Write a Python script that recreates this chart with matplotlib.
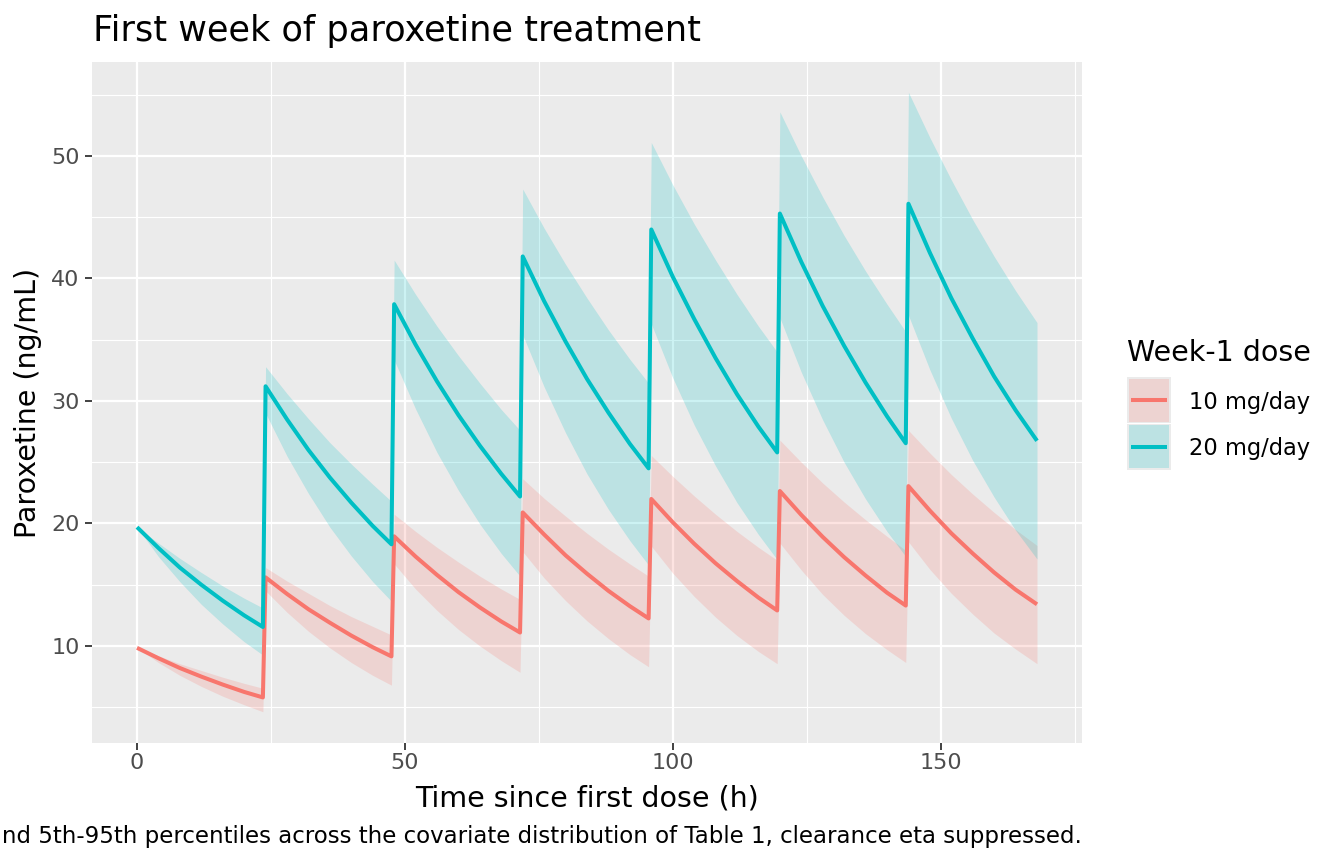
import matplotlib
matplotlib.use("Agg")
import matplotlib.pyplot as plt
from matplotlib.patches import Rectangle

# sample times (h): seven per dosing interval, dose given every 24 h
TIME = [0, 4, 8, 12, 16, 20, 23.5,
        24, 28, 32, 36, 40, 44, 47.5,
        48, 52, 56, 60, 64, 68, 71.5,
        72, 76, 80, 84, 88, 92, 95.5,
        96, 100, 104, 108, 112, 116, 119.5,
        120, 124, 128, 132, 136, 140, 143.5,
        144, 148, 152, 156, 160, 164, 168]

# 10 mg/day: typical profile and 5th / 95th percentile band
LOW_MID = [9.85, 9.0, 8.2, 7.5, 6.85, 6.25, 5.8,
           15.6, 14.25, 13.0, 11.9, 10.85, 9.9, 9.15,
           18.95, 17.3, 15.8, 14.4, 13.15, 12.0, 11.1,
           20.9, 19.1, 17.4, 15.9, 14.5, 13.25, 12.25,
           22.0, 20.1, 18.35, 16.75, 15.3, 13.95, 12.9,
           22.65, 20.7, 18.9, 17.25, 15.75, 14.35, 13.3,
           23.05, 21.05, 19.2, 17.55, 16.0, 14.6, 13.4]
LOW_LO = [9.85, 8.65, 7.6, 6.7, 5.9, 5.2, 4.63,
          14.5, 12.75, 11.2, 9.85, 8.65, 7.6, 6.8,
          16.7, 14.65, 12.9, 11.35, 10.0, 8.8, 7.85,
          17.7, 15.55, 13.7, 12.05, 10.6, 9.3, 8.3,
          18.15, 15.95, 14.05, 12.35, 10.85, 9.55, 8.55,
          18.4, 16.2, 14.2, 12.5, 11.0, 9.7, 8.65,
          18.5, 16.25, 14.3, 12.6, 11.05, 9.75, 8.55]
LOW_HI = [9.85, 9.2, 8.55, 8.0, 7.45, 6.95, 6.55,
          16.4, 15.3, 14.3, 13.3, 12.4, 11.6, 10.9,
          20.75, 19.35, 18.05, 16.85, 15.7, 14.65, 13.8,
          23.65, 22.05, 20.6, 19.2, 17.9, 16.7, 15.7,
          25.55, 23.85, 22.25, 20.75, 19.35, 18.05, 17.0,
          26.8, 25.0, 23.3, 21.75, 20.3, 18.95, 17.8,
          27.6, 25.75, 24.0, 22.4, 20.9, 19.5, 18.2]

# 20 mg/day
HIGH_MID = [19.7, 18.0, 16.4, 15.0, 13.7, 12.5, 11.55,
            31.2, 28.5, 26.0, 23.75, 21.7, 19.8, 18.3,
            37.9, 34.6, 31.6, 28.85, 26.35, 24.05, 22.2,
            41.8, 38.15, 34.85, 31.8, 29.05, 26.5, 24.5,
            44.0, 40.15, 36.7, 33.5, 30.55, 27.9, 25.8,
            45.3, 41.35, 37.75, 34.5, 31.5, 28.75, 26.55,
            46.1, 42.1, 38.4, 35.1, 32.0, 29.25, 26.75]
HIGH_LO = [19.7, 17.3, 15.25, 13.4, 11.8, 10.35, 9.26,
           29.0, 25.5, 22.45, 19.7, 17.35, 15.25, 13.65,
           33.35, 29.35, 25.8, 22.7, 19.95, 17.55, 15.7,
           35.4, 31.15, 27.4, 24.05, 21.15, 18.6, 16.6,
           36.3, 31.9, 28.05, 24.7, 21.7, 19.1, 17.05,
           36.8, 32.35, 28.45, 25.0, 22.0, 19.35, 17.3,
           37.0, 32.55, 28.6, 25.15, 22.15, 19.45, 17.1]
HIGH_HI = [19.7, 18.4, 17.15, 16.0, 14.9, 13.9, 13.1,
           32.8, 30.6, 28.55, 26.6, 24.85, 23.2, 21.8,
           41.5, 38.7, 36.1, 33.7, 31.45, 29.3, 27.6,
           47.3, 44.1, 41.15, 38.4, 35.8, 33.4, 31.45,
           51.1, 47.65, 44.45, 41.5, 38.7, 36.1, 34.0,
           53.6, 50.0, 46.65, 43.5, 40.6, 37.9, 35.65,
           55.2, 51.5, 48.05, 44.8, 41.8, 39.0, 36.4]

DOSE_LABELS = ["10 mg/day", "20 mg/day"]
COLORS = ["#F8766D", "#00BFC4"]

TITLE = "First week of paroxetine treatment"
XLABEL = "Time since first dose (h)"
YLABEL = "Paroxetine (ng/mL)"
LEGEND_TITLE = "Week-1 dose"
CAPTION = ("Median (line) and 5th-95th percentiles across the covariate "
           "distribution of Table 1, clearance eta suppressed.")

plt.rcParams["font.family"] = ["DejaVu Sans"]

W, H = 1344, 864
fig = plt.figure(figsize=(W / 100, H / 100), dpi=100)
ax = fig.add_axes([92 / W, 1 - 743 / H, 990 / W, 681 / H])
ax.set_facecolor("#EBEBEB")

series = [(LOW_MID, LOW_LO, LOW_HI), (HIGH_MID, HIGH_LO, HIGH_HI)]
for (mid, lo, hi), col in zip(series, COLORS):
    ax.fill_between(TIME, lo, hi, color=col, alpha=0.2, linewidth=0, zorder=2)
for (mid, lo, hi), col in zip(series, COLORS):
    ax.plot(TIME, mid, color=col, linewidth=2.9, solid_joinstyle="round",
            solid_capstyle="butt", zorder=3)

ax.set_xlim(-8.4, 176.4)
ax.set_ylim(2.08, 57.67)
ax.set_xticks([0, 50, 100, 150])
ax.set_yticks([10, 20, 30, 40, 50])
ax.set_xticks([25, 75, 125, 175], minor=True)
ax.set_yticks([5, 15, 25, 35, 45, 55], minor=True)
ax.grid(which="major", color="white", linewidth=1.6, zorder=1)
ax.grid(which="minor", color="white", linewidth=0.8, zorder=1)
ax.set_axisbelow(True)
for s in ax.spines.values():
    s.set_visible(False)
ax.tick_params(which="major", length=5, width=1.3, color="#333333",
               labelsize=16, labelcolor="#4D4D4D")
ax.tick_params(axis="x", pad=2.5)
ax.tick_params(axis="y", pad=4)
ax.tick_params(which="minor", length=0)

# overlay in pixel coordinates for titles, caption and legend
ov = fig.add_axes([0, 0, 1, 1])
ov.set_xlim(0, W)
ov.set_ylim(H, 0)
ov.axis("off")

ov.text(93, 41, TITLE, fontsize=25.3, ha="left", va="baseline")
ov.text(587, 806, XLABEL, fontsize=20.5, ha="center", va="baseline")
ov.text(36, 402.5, YLABEL, fontsize=20.5, ha="center", va="baseline",
        rotation=90, rotation_mode="anchor")
ov.text(1082, 843, CAPTION, fontsize=16.5, ha="right", va="baseline")

ov.text(1127, 361, LEGEND_TITLE, fontsize=20.5, ha="left", va="baseline")
for i, (col, lab) in enumerate(zip(COLORS, DOSE_LABELS)):
    top = 377 + 46.5 * i
    ov.add_patch(Rectangle((1127, top), 43.5, 46, facecolor="#EBEBEB",
                           edgecolor="none"))
    ov.add_patch(Rectangle((1128.5, top + 1.5), 40.5, 43, facecolor=col,
                           alpha=0.2, edgecolor="none"))
    ov.plot([1131, 1167], [top + 23, top + 23], color=col, linewidth=2.9,
            solid_capstyle="butt")
    ov.text(1189, top + 23, lab, fontsize=16.3, ha="left", va="center_baseline")

fig.savefig("out.png", dpi=100)
